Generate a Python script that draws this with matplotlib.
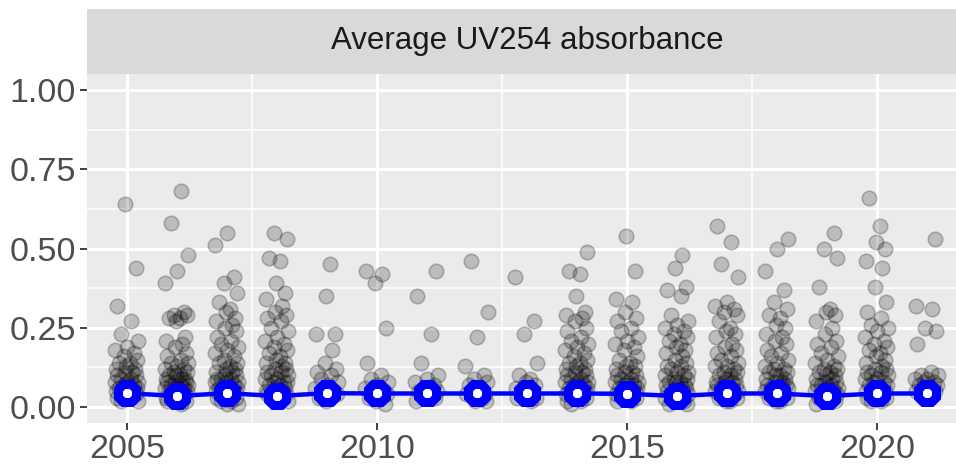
import matplotlib
matplotlib.use('Agg')
from matplotlib import pyplot as plt
import numpy as np

plt.rcParams['font.family'] = ['Liberation Sans', 'DejaVu Sans']

# individual samples per year
years = list(range(2005, 2022))
v2005 = [0.64, 0.44, 0.32, 0.27, 0.23, 0.21, 0.19, 0.18, 0.17, 0.16, 0.15, 0.14, 0.14, 0.13, 0.12, 0.12,
         0.11, 0.11, 0.10, 0.10, 0.09, 0.09, 0.08, 0.08, 0.08, 0.07, 0.07, 0.06, 0.06, 0.06, 0.05, 0.05,
         0.05, 0.04, 0.04, 0.04, 0.03, 0.03, 0.02, 0.02]
v2006 = [0.68, 0.58, 0.48, 0.43, 0.39, 0.30, 0.29, 0.29, 0.28, 0.28, 0.27, 0.22, 0.21, 0.20, 0.19, 0.17,
         0.16, 0.15, 0.14, 0.14, 0.13, 0.12, 0.12, 0.11, 0.11, 0.10, 0.10, 0.10, 0.09, 0.09, 0.09, 0.08,
         0.08, 0.08, 0.07, 0.07, 0.07, 0.06, 0.06, 0.06, 0.05, 0.05, 0.05, 0.04, 0.04, 0.04, 0.03, 0.03,
         0.03, 0.02, 0.02, 0.01]
v2007 = [0.55, 0.51, 0.41, 0.39, 0.36, 0.33, 0.31, 0.30, 0.28, 0.27, 0.26, 0.25, 0.24, 0.22, 0.21, 0.20,
         0.19, 0.18, 0.17, 0.16, 0.15, 0.14, 0.14, 0.13, 0.12, 0.12, 0.11, 0.11, 0.10, 0.10, 0.09, 0.09,
         0.09, 0.08, 0.08, 0.08, 0.07, 0.07, 0.06, 0.06, 0.06, 0.05, 0.05, 0.05, 0.04, 0.04, 0.03, 0.03,
         0.02, 0.02, 0.01, 0.01]
v2008 = [0.55, 0.53, 0.47, 0.46, 0.39, 0.36, 0.34, 0.32, 0.30, 0.29, 0.28, 0.27, 0.25, 0.24, 0.22, 0.21,
         0.20, 0.19, 0.18, 0.17, 0.16, 0.15, 0.14, 0.14, 0.13, 0.12, 0.12, 0.11, 0.11, 0.10, 0.10, 0.09,
         0.09, 0.08, 0.08, 0.08, 0.07, 0.07, 0.06, 0.06, 0.05, 0.05, 0.05, 0.04, 0.04, 0.03, 0.03, 0.02, 0.02]
v2009 = [0.45, 0.35, 0.23, 0.23, 0.18, 0.14, 0.12, 0.11, 0.10, 0.09, 0.08, 0.07, 0.06, 0.05, 0.05, 0.04,
         0.03, 0.03, 0.02]
v2010 = [0.43, 0.42, 0.39, 0.25, 0.14, 0.10, 0.09, 0.08, 0.07, 0.06, 0.05, 0.04, 0.04, 0.03, 0.03, 0.02, 0.01]
v2011 = [0.43, 0.35, 0.23, 0.14, 0.10, 0.09, 0.08, 0.07, 0.06, 0.05, 0.05, 0.04, 0.03, 0.03, 0.02]
v2012 = [0.46, 0.30, 0.22, 0.13, 0.10, 0.09, 0.08, 0.07, 0.06, 0.05, 0.04, 0.04, 0.03, 0.02, 0.02]
v2013 = [0.41, 0.27, 0.23, 0.14, 0.10, 0.09, 0.08, 0.07, 0.06, 0.05, 0.04, 0.03, 0.03, 0.02]
v2014 = [0.49, 0.43, 0.42, 0.35, 0.30, 0.29, 0.28, 0.27, 0.25, 0.24, 0.22, 0.21, 0.20, 0.19, 0.18, 0.17,
         0.16, 0.15, 0.14, 0.14, 0.13, 0.12, 0.12, 0.11, 0.11, 0.10, 0.10, 0.09, 0.09, 0.08, 0.08, 0.08,
         0.07, 0.07, 0.06, 0.06, 0.05, 0.05, 0.05, 0.04, 0.04, 0.03, 0.03, 0.02, 0.02, 0.01]
v2015 = [0.54, 0.43, 0.34, 0.33, 0.30, 0.28, 0.27, 0.25, 0.24, 0.22, 0.21, 0.20, 0.19, 0.18, 0.16, 0.15,
         0.14, 0.13, 0.13, 0.12, 0.11, 0.11, 0.10, 0.10, 0.09, 0.09, 0.08, 0.08, 0.08, 0.07, 0.07, 0.06,
         0.06, 0.05, 0.05, 0.05, 0.04, 0.04, 0.03, 0.03, 0.02, 0.02]
v2016 = [0.48, 0.44, 0.38, 0.37, 0.35, 0.29, 0.27, 0.26, 0.25, 0.24, 0.23, 0.22, 0.21, 0.20, 0.19, 0.18,
         0.17, 0.16, 0.15, 0.14, 0.13, 0.13, 0.12, 0.11, 0.11, 0.10, 0.10, 0.09, 0.09, 0.08, 0.08, 0.08,
         0.07, 0.07, 0.06, 0.06, 0.06, 0.05, 0.05, 0.04, 0.04, 0.03, 0.03, 0.02, 0.02, 0.01, 0.01]
v2017 = [0.57, 0.52, 0.45, 0.41, 0.33, 0.32, 0.31, 0.30, 0.29, 0.27, 0.25, 0.24, 0.23, 0.22, 0.20, 0.19,
         0.18, 0.17, 0.16, 0.15, 0.14, 0.13, 0.13, 0.12, 0.11, 0.11, 0.10, 0.10, 0.09, 0.09, 0.08, 0.08,
         0.08, 0.07, 0.07, 0.06, 0.06, 0.05, 0.05, 0.05, 0.04, 0.04, 0.03, 0.03, 0.02, 0.02]
v2018 = [0.53, 0.50, 0.43, 0.37, 0.33, 0.31, 0.29, 0.28, 0.26, 0.25, 0.23, 0.22, 0.21, 0.20, 0.18, 0.17,
         0.16, 0.15, 0.14, 0.13, 0.12, 0.12, 0.11, 0.11, 0.10, 0.10, 0.09, 0.09, 0.08, 0.08, 0.07, 0.07,
         0.07, 0.06, 0.06, 0.05, 0.05, 0.04, 0.04, 0.03, 0.03, 0.02, 0.02]
v2019 = [0.55, 0.50, 0.47, 0.38, 0.31, 0.30, 0.29, 0.27, 0.25, 0.23, 0.21, 0.20, 0.19, 0.17, 0.16, 0.15,
         0.14, 0.13, 0.12, 0.12, 0.11, 0.11, 0.10, 0.10, 0.09, 0.09, 0.08, 0.08, 0.07, 0.07, 0.07, 0.06,
         0.06, 0.05, 0.05, 0.04, 0.04, 0.03, 0.03, 0.02, 0.02, 0.01]
v2020 = [0.66, 0.57, 0.52, 0.50, 0.46, 0.44, 0.38, 0.33, 0.30, 0.28, 0.26, 0.25, 0.24, 0.22, 0.21, 0.20,
         0.19, 0.18, 0.17, 0.16, 0.15, 0.14, 0.13, 0.12, 0.12, 0.11, 0.11, 0.10, 0.10, 0.09, 0.09, 0.08,
         0.08, 0.07, 0.07, 0.06, 0.06, 0.05, 0.05, 0.04, 0.04, 0.03, 0.03, 0.02, 0.02]
v2021 = [0.53, 0.32, 0.31, 0.25, 0.24, 0.20, 0.11, 0.10, 0.10, 0.09, 0.09, 0.08, 0.08, 0.07, 0.07, 0.06,
         0.06, 0.05, 0.05, 0.04, 0.03]
samples = [v2005, v2006, v2007, v2008, v2009, v2010, v2011, v2012, v2013, v2014,
           v2015, v2016, v2017, v2018, v2019, v2020, v2021]

# yearly summary (blue line)
summary = [0.044, 0.035, 0.044, 0.035, 0.044, 0.043, 0.043, 0.043, 0.043, 0.043,
           0.042, 0.035, 0.043, 0.043, 0.035, 0.043, 0.043]

# fixed horizontal jitter pattern
jit = [-0.05, 0.18, -0.2, 0.08, -0.12, 0.22, 0.0, -0.24, 0.13, -0.07, 0.2, -0.16, 0.05, -0.02, 0.16, -0.22, 0.1]

fig = plt.figure(figsize=(9.56, 4.75), dpi=100)
ax = fig.add_axes([87 / 956, 52 / 475, 880 / 956, 349 / 475])
ax.set_facecolor('#EBEBEB')

for k, (yr, vals) in enumerate(zip(years, samples)):
    xs = [yr + jit[(i + 3 * k) % len(jit)] for i in range(len(vals))]
    ax.scatter(xs, vals, s=110, facecolor=(0, 0, 0, 0.2), edgecolor=(0, 0, 0, 0.22), linewidths=1.2, zorder=2)

ax.plot(years, summary, color='blue', lw=3.2, zorder=3)
ax.plot(years, summary, ls='none', marker='8', ms=13.5, mew=6.5, mec='blue', mfc='white', zorder=4)

ax.set_xlim(2004.2, 2021.8)
ax.set_ylim(-0.05, 1.05)
ax.set_xticks([2005, 2010, 2015, 2020])
ax.set_xticks([2007.5, 2012.5, 2017.5], minor=True)
ax.set_yticks([0, 0.25, 0.5, 0.75, 1.0])
ax.set_yticklabels(['0.00', '0.25', '0.50', '0.75', '1.00'])
ax.set_yticks([0.125, 0.375, 0.625, 0.875], minor=True)
ax.grid(which='major', color='white', lw=2.2)
ax.grid(which='minor', color='white', lw=1.1)
ax.set_axisbelow(True)
ax.tick_params(which='major', length=5, width=1.3, color='#333333', labelcolor='#4D4D4D', labelsize=24.5, pad=3)
ax.tick_params(which='minor', length=0)
for s in ax.spines.values():
    s.set_visible(False)

# facet strip
strip = fig.add_axes([87 / 956, 401 / 475, 880 / 956, 65 / 475])
strip.set_facecolor('#D9D9D9')
strip.set_xticks([])
strip.set_yticks([])
for s in strip.spines.values():
    s.set_visible(False)
strip.text(0.5, 0.5, 'Average UV254 absorbance', ha='center', va='center', fontsize=22.5,
           color='#1A1A1A', transform=strip.transAxes)

fig.savefig('out.png', dpi=100)
